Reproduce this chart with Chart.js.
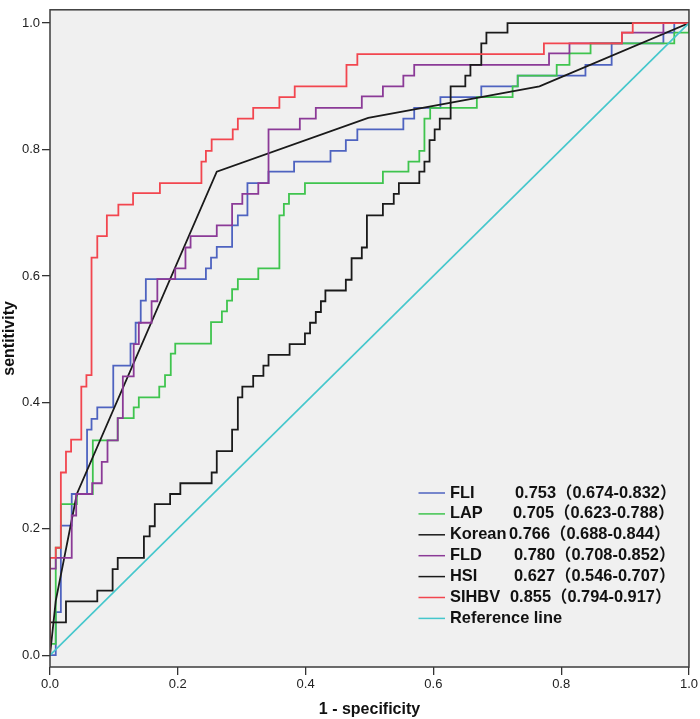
<!DOCTYPE html>
<html>
<head>
<meta charset="utf-8">
<script src="https://cdn.jsdelivr.net/npm/chart.js@4.4.1/dist/chart.umd.min.js"></script>
<style>
  body { margin: 0; background: #fff; }
  #wrap { width: 700px; height: 719px; position: relative; }
</style>
</head>
<body>
<div id="wrap"><canvas id="roc"></canvas></div>
<script>
// ROC curves, (1 - specificity, sensitivity) corner points
const fliFpr = [0, 0.009, 0.017, 0.034, 0.058, 0.065, 0.074, 0.099, 0.126, 0.134, 0.142, 0.150, 0.244, 0.252, 0.261, 0.285, 0.294, 0.309, 0.342, 0.382, 0.439, 0.463, 0.481, 0.553, 0.570, 0.611, 0.675, 0.732, 0.838, 0.879, 0.960, 0.977, 1];
const fliTpr = [0, 0.068, 0.205, 0.255, 0.357, 0.374, 0.392, 0.458, 0.493, 0.526, 0.561, 0.595, 0.612, 0.629, 0.646, 0.680, 0.696, 0.747, 0.765, 0.781, 0.798, 0.815, 0.832, 0.849, 0.866, 0.883, 0.900, 0.917, 0.934, 0.968, 0.985, 1.0, 1];

const lapFpr = [0, 0, 0.009, 0.017, 0.042, 0.067, 0.106, 0.131, 0.139, 0.171, 0.180, 0.189, 0.196, 0.252, 0.269, 0.277, 0.285, 0.294, 0.326, 0.359, 0.366, 0.374, 0.399, 0.521, 0.561, 0.578, 0.586, 0.595, 0.668, 0.724, 0.732, 0.793, 0.813, 0.846, 0.977, 1];
const lapTpr = [0, 0.018, 0.170, 0.239, 0.255, 0.340, 0.375, 0.392, 0.408, 0.425, 0.443, 0.477, 0.493, 0.527, 0.544, 0.561, 0.579, 0.595, 0.612, 0.696, 0.714, 0.730, 0.747, 0.765, 0.781, 0.798, 0.849, 0.866, 0.883, 0.900, 0.917, 0.934, 0.952, 0.968, 0.985, 1];

const koreanFpr = [0, 0.009, 0.042, 0.261, 0.498, 0.766, 1];
const koreanTpr = [0, 0.086, 0.255, 0.765, 0.850, 0.900, 1];

const fldFpr = [0, 0, 0.009, 0.034, 0.041, 0.066, 0.081, 0.090, 0.106, 0.114, 0.131, 0.139, 0.159, 0.168, 0.196, 0.212, 0.220, 0.261, 0.285, 0.301, 0.326, 0.342, 0.391, 0.416, 0.488, 0.521, 0.553, 0.570, 0.781, 0.813, 0.895, 0.960, 1];
const fldTpr = [0, 0.137, 0.154, 0.221, 0.255, 0.272, 0.306, 0.340, 0.375, 0.441, 0.492, 0.526, 0.560, 0.595, 0.612, 0.645, 0.663, 0.680, 0.714, 0.730, 0.747, 0.832, 0.849, 0.866, 0.884, 0.900, 0.917, 0.934, 0.952, 0.968, 0.985, 1.0, 1];

const hsiFpr = [0, 0, 0.025, 0.074, 0.098, 0.106, 0.147, 0.156, 0.164, 0.188, 0.204, 0.253, 0.261, 0.285, 0.294, 0.301, 0.318, 0.334, 0.342, 0.375, 0.399, 0.407, 0.416, 0.424, 0.431, 0.463, 0.472, 0.488, 0.496, 0.521, 0.538, 0.546, 0.578, 0.586, 0.594, 0.602, 0.610, 0.627, 0.650, 0.658, 0.675, 0.683, 0.716, 1];
const hsiTpr = [0, 0.052, 0.085, 0.102, 0.136, 0.154, 0.188, 0.204, 0.239, 0.255, 0.272, 0.289, 0.323, 0.357, 0.408, 0.425, 0.442, 0.458, 0.475, 0.492, 0.509, 0.526, 0.543, 0.560, 0.577, 0.594, 0.628, 0.645, 0.696, 0.714, 0.730, 0.747, 0.765, 0.781, 0.815, 0.832, 0.849, 0.900, 0.917, 0.934, 0.968, 0.985, 1.0, 1];

const sihbvFpr = [0, 0, 0.009, 0.017, 0.025, 0.033, 0.049, 0.057, 0.065, 0.074, 0.089, 0.107, 0.130, 0.172, 0.237, 0.244, 0.253, 0.286, 0.294, 0.318, 0.359, 0.383, 0.464, 0.481, 0.773, 0.895, 0.912, 1];
const sihbvTpr = [0, 0.154, 0.170, 0.289, 0.322, 0.341, 0.425, 0.443, 0.629, 0.663, 0.696, 0.713, 0.731, 0.747, 0.781, 0.798, 0.816, 0.832, 0.849, 0.866, 0.883, 0.900, 0.934, 0.951, 0.968, 0.985, 1.0, 1];

const refFpr = [0, 1];
const refTpr = [0, 1];

const seriesNames = ["FLI", "LAP", "Korean", "FLD", "HSI", "SIHBV", "Reference line"];
const aucLabels = ["0.753（0.674-0.832）", "0.705（0.623-0.788）", "0.766（0.688-0.844）",
  "0.780（0.708-0.852）", "0.627（0.546-0.707）", "0.855（0.794-0.917）", ""];

const xTicks = [0, 0.2, 0.4, 0.6, 0.8, 1.0];
const yTicks = [0, 0.2, 0.4, 0.6, 0.8, 1.0];

const colors = ["#4e63c0", "#3fc44e", "#1a1a1a", "#8b3a97", "#1a1a1a", "#f2464f", "#45c7cc"];
const FONT = "'Liberation Sans', Arial, 'Noto Sans CJK SC', sans-serif";

function pts(xs, ys) {
  return xs.map((x, i) => ({ x: x, y: ys[i] }));
}

const curves = [
  { data: pts(fliFpr, fliTpr), stepped: "before" },
  { data: pts(lapFpr, lapTpr), stepped: "before" },
  { data: pts(koreanFpr, koreanTpr), stepped: false },
  { data: pts(fldFpr, fldTpr), stepped: "before" },
  { data: pts(hsiFpr, hsiTpr), stepped: "before" },
  { data: pts(sihbvFpr, sihbvTpr), stepped: "before" },
  { data: pts(refFpr, refTpr), stepped: false }
];

const datasets = curves.map((c, i) => ({
  label: seriesNames[i],
  data: c.data,
  stepped: c.stepped,
  borderColor: colors[i],
  borderWidth: 1.8,
  pointRadius: 0,
  tension: 0,
  fill: false,
  // later series sit on top, like the original
  order: curves.length - i
}));

// grey plot background and frame
const frame = {
  id: "frame",
  beforeDraw(chart) {
    const { ctx, chartArea: a } = chart;
    ctx.save();
    ctx.fillStyle = "#fff";
    ctx.fillRect(0, 0, chart.width, chart.height);
    ctx.fillStyle = "#f0f0f0";
    ctx.fillRect(a.left, a.top, a.right - a.left, a.bottom - a.top);
    ctx.restore();
  },
  afterDatasetsDraw(chart) {
    const { ctx, chartArea: a } = chart;
    ctx.save();
    ctx.strokeStyle = "#3c3c3c";
    ctx.lineWidth = 1.5;
    ctx.strokeRect(a.left, a.top, a.right - a.left, a.bottom - a.top);
    ctx.restore();
  }
};

// legend with AUC column
const aucLegend = {
  id: "aucLegend",
  afterDraw(chart) {
    const ctx = chart.ctx;
    const valueX = [515, 513, 509, 514, 514, 510, 0];
    ctx.save();
    ctx.font = "bold 16.4px " + FONT;
    ctx.textBaseline = "middle";
    ctx.fillStyle = "#111";
    seriesNames.forEach((name, i) => {
      const y = 493 + i * 20.9;
      ctx.strokeStyle = colors[i];
      ctx.lineWidth = 1.5;
      ctx.beginPath();
      ctx.moveTo(418.5, y);
      ctx.lineTo(445, y);
      ctx.stroke();
      ctx.fillText(name, 450, y);
      if (aucLabels[i]) ctx.fillText(aucLabels[i], valueX[i], y);
    });
    ctx.restore();
  }
};

const tickFont = { family: FONT, size: 13 };
const titleFont = { family: FONT, size: 16, weight: "bold" };

new Chart(document.getElementById("roc").getContext("2d"), {
  type: "line",
  data: { datasets: datasets },
  options: {
    responsive: true,
    maintainAspectRatio: false,
    animation: false,
    layout: { padding: { top: 1, right: 8, left: 0, bottom: 0 } },
    plugins: { legend: { display: false }, tooltip: { enabled: false } },
    scales: {
      x: {
        type: "linear",
        min: 0,
        max: 1,
        afterBuildTicks: (s) => { s.ticks = xTicks.map((v) => ({ value: v })); },
        afterFit: (s) => { s.height = 52; },
        ticks: { font: tickFont, color: "#222", padding: 2, maxRotation: 0,
          callback: (v) => v.toFixed(1) },
        grid: { drawOnChartArea: false, tickLength: 8, color: "#333", lineWidth: 1.3 },
        border: { display: false },
        title: { display: true, text: "1 - specificity", font: titleFont, color: "#111",
          padding: { top: 0, bottom: 0 } }
      },
      y: {
        type: "linear",
        min: -0.0187,
        max: 1.0211,
        afterBuildTicks: (s) => { s.ticks = yTicks.map((v) => ({ value: v })); },
        afterFit: (s) => { s.width = 50; },
        ticks: { font: tickFont, color: "#222", padding: 2,
          callback: (v) => v.toFixed(1) },
        grid: { drawOnChartArea: false, tickLength: 8, color: "#333", lineWidth: 1.3 },
        border: { display: false },
        title: { display: true, text: "sentitivity", font: titleFont, color: "#111",
          padding: { top: 0, bottom: 0 } }
      }
    }
  },
  plugins: [frame, aucLegend]
});
</script>
</body>
</html>
